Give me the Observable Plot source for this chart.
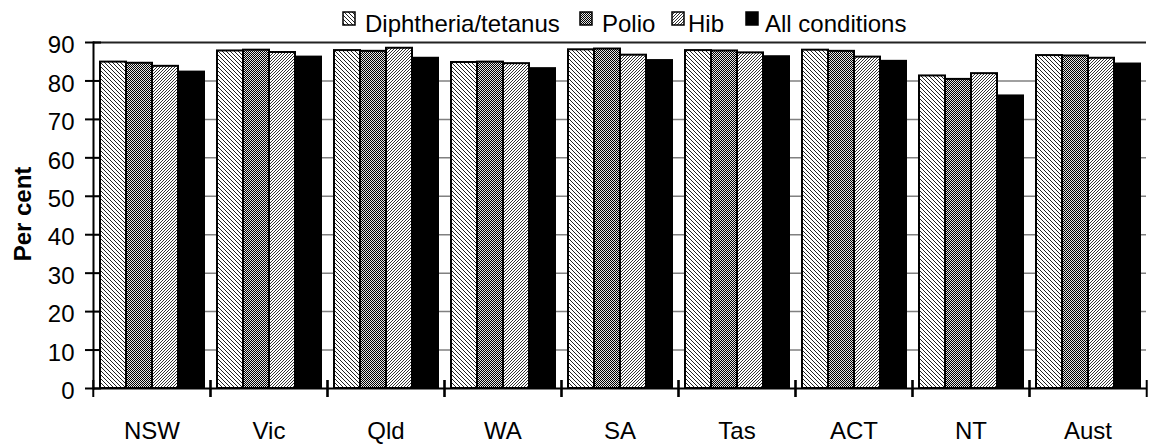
<!DOCTYPE html>
<html>
<head>
<meta charset="utf-8">
<script src="https://cdn.jsdelivr.net/npm/d3@7"></script>
<script src="https://cdn.jsdelivr.net/npm/@observablehq/plot@0.6"></script>
<style>
  html, body { margin: 0; padding: 0; background: white; }
  #chart svg { display: block; }
</style>
</head>
<body>
<div id="chart"></div>
<script>
// ---- data ----
const states = ["NSW", "Vic", "Qld", "WA", "SA", "Tas", "ACT", "NT", "Aust"];
const series = ["Diphtheria/tetanus", "Polio", "Hib", "All conditions"];
const diphtheria = [84.9, 87.8, 87.9, 84.8, 88.1, 87.9, 88.0, 81.3, 86.6];
const polio      = [84.6, 88.0, 87.7, 84.9, 88.3, 87.8, 87.7, 80.4, 86.5];
const hib        = [83.8, 87.4, 88.5, 84.5, 86.7, 87.3, 86.2, 81.9, 85.9];
const allCond    = [82.3, 86.2, 85.9, 83.2, 85.3, 86.3, 85.1, 76.1, 84.4];
const yTicks = [0, 10, 20, 30, 40, 50, 60, 70, 80, 90];
const gridTicks = [10, 20, 30, 40, 50, 60, 70, 80];

const valuesBySeries = [diphtheria, polio, hib, allCond];
const rows = [];
series.forEach((s, j) => states.forEach((st, i) => rows.push({state: st, series: s, value: valuesBySeries[j][i]})));

const fills = {
  "Diphtheria/tetanus": "url(#pat-diph)",
  "Polio": "url(#pat-polio)",
  "Hib": "url(#pat-hib)",
  "All conditions": "black"
};

const W = 1149, H = 444, ML = 91, MR = 1, MT = 42, MB = 56;
const bw = (W - ML - MR) / states.length;

const chart = Plot.plot({
  width: W,
  height: H,
  marginLeft: ML,
  marginRight: MR,
  marginTop: MT,
  marginBottom: MB,
  style: {fontFamily: "'Liberation Sans', Arial, sans-serif", fontSize: "24px", background: "white", color: "black"},
  fx: {domain: states, paddingInner: 0, paddingOuter: 0, axis: null, label: null},
  x: {domain: series, paddingInner: 0, paddingOuter: 0.23, axis: null},
  y: {domain: [0, 90], axis: null},
  marks: [
    Plot.ruleY(gridTicks, {stroke: "#808080", strokeWidth: 1.5}),
    Plot.ruleY([90], {stroke: "#222", strokeWidth: 2}),
    ...series.map(s => Plot.barY(rows.filter(r => r.series === s), {
      fx: "state", x: "series", y: "value",
      fill: fills[s], stroke: "black", strokeWidth: 2
    })),
    Plot.ruleY([0], {stroke: "black", strokeWidth: 2}),
    Plot.frame({anchor: "left", facetAnchor: "left", stroke: "black", strokeWidth: 2}),
    Plot.axisY(yTicks, {tickSize: 16, dx: 8, fill: "none", strokeWidth: 2, label: null}),
    Plot.axisY(yTicks, {tickSize: 0, tickPadding: 19, dy: 3, label: null}),
    Plot.axisFx({anchor: "bottom", tickSize: 0, tickPadding: 33, label: null}),
    Plot.axisFx({anchor: "bottom", tickSize: 17, dy: -8, dx: -bw / 2, fill: "none", strokeWidth: 2, label: null}),
    Plot.axisFx(["Aust"], {anchor: "bottom", tickSize: 17, dy: -8, dx: bw / 2, fill: "none", strokeWidth: 2, label: null})
  ]
});

document.getElementById("chart").appendChild(chart);

// ---- patterns ----
const svg = d3.select(chart);
const defs = svg.insert("defs", ":first-child");
function pattern(id, size, bg, pixels) {
  const p = defs.append("pattern").attr("id", id)
    .attr("patternUnits", "userSpaceOnUse").attr("width", size).attr("height", size);
  p.append("rect").attr("width", size).attr("height", size).attr("fill", bg);
  pixels.forEach(([x, y, c]) => p.append("rect").attr("x", x).attr("y", y)
    .attr("width", 1).attr("height", 1).attr("fill", c).attr("shape-rendering", "crispEdges"));
}
pattern("pat-diph", 4, "white", [[0,0,"#222"],[1,1,"#222"],[2,2,"#222"],[3,3,"#222"]]);
pattern("pat-polio", 2, "#e4e4e4", [[0,0,"#000"],[1,1,"#000"]]);
pattern("pat-hib", 3, "white", [[2,0,"#333"],[1,1,"#333"],[0,2,"#333"]]);

// ---- y-axis title ----
svg.append("text")
  .attr("transform", "translate(31,214) rotate(-90)")
  .attr("text-anchor", "middle")
  .attr("font-weight", "bold")
  .attr("font-size", 24)
  .attr("fill", "black")
  .text("Per cent");

// ---- legend ----
const legendSwatchX = [343, 580, 672, 746];
const legendTextX = [365, 602, 688, 765];
const lg = svg.append("g").attr("text-anchor", "start");
series.forEach((s, i) => {
  lg.append("rect").attr("x", legendSwatchX[i]).attr("y", 12).attr("width", 12).attr("height", 13)
    .attr("fill", fills[s]).attr("stroke", "black").attr("stroke-width", 1.5);
  lg.append("text").attr("x", legendTextX[i]).attr("y", 32).attr("font-size", 24)
    .attr("text-anchor", "start").attr("fill", "black").text(s);
});
</script>
</body>
</html>
